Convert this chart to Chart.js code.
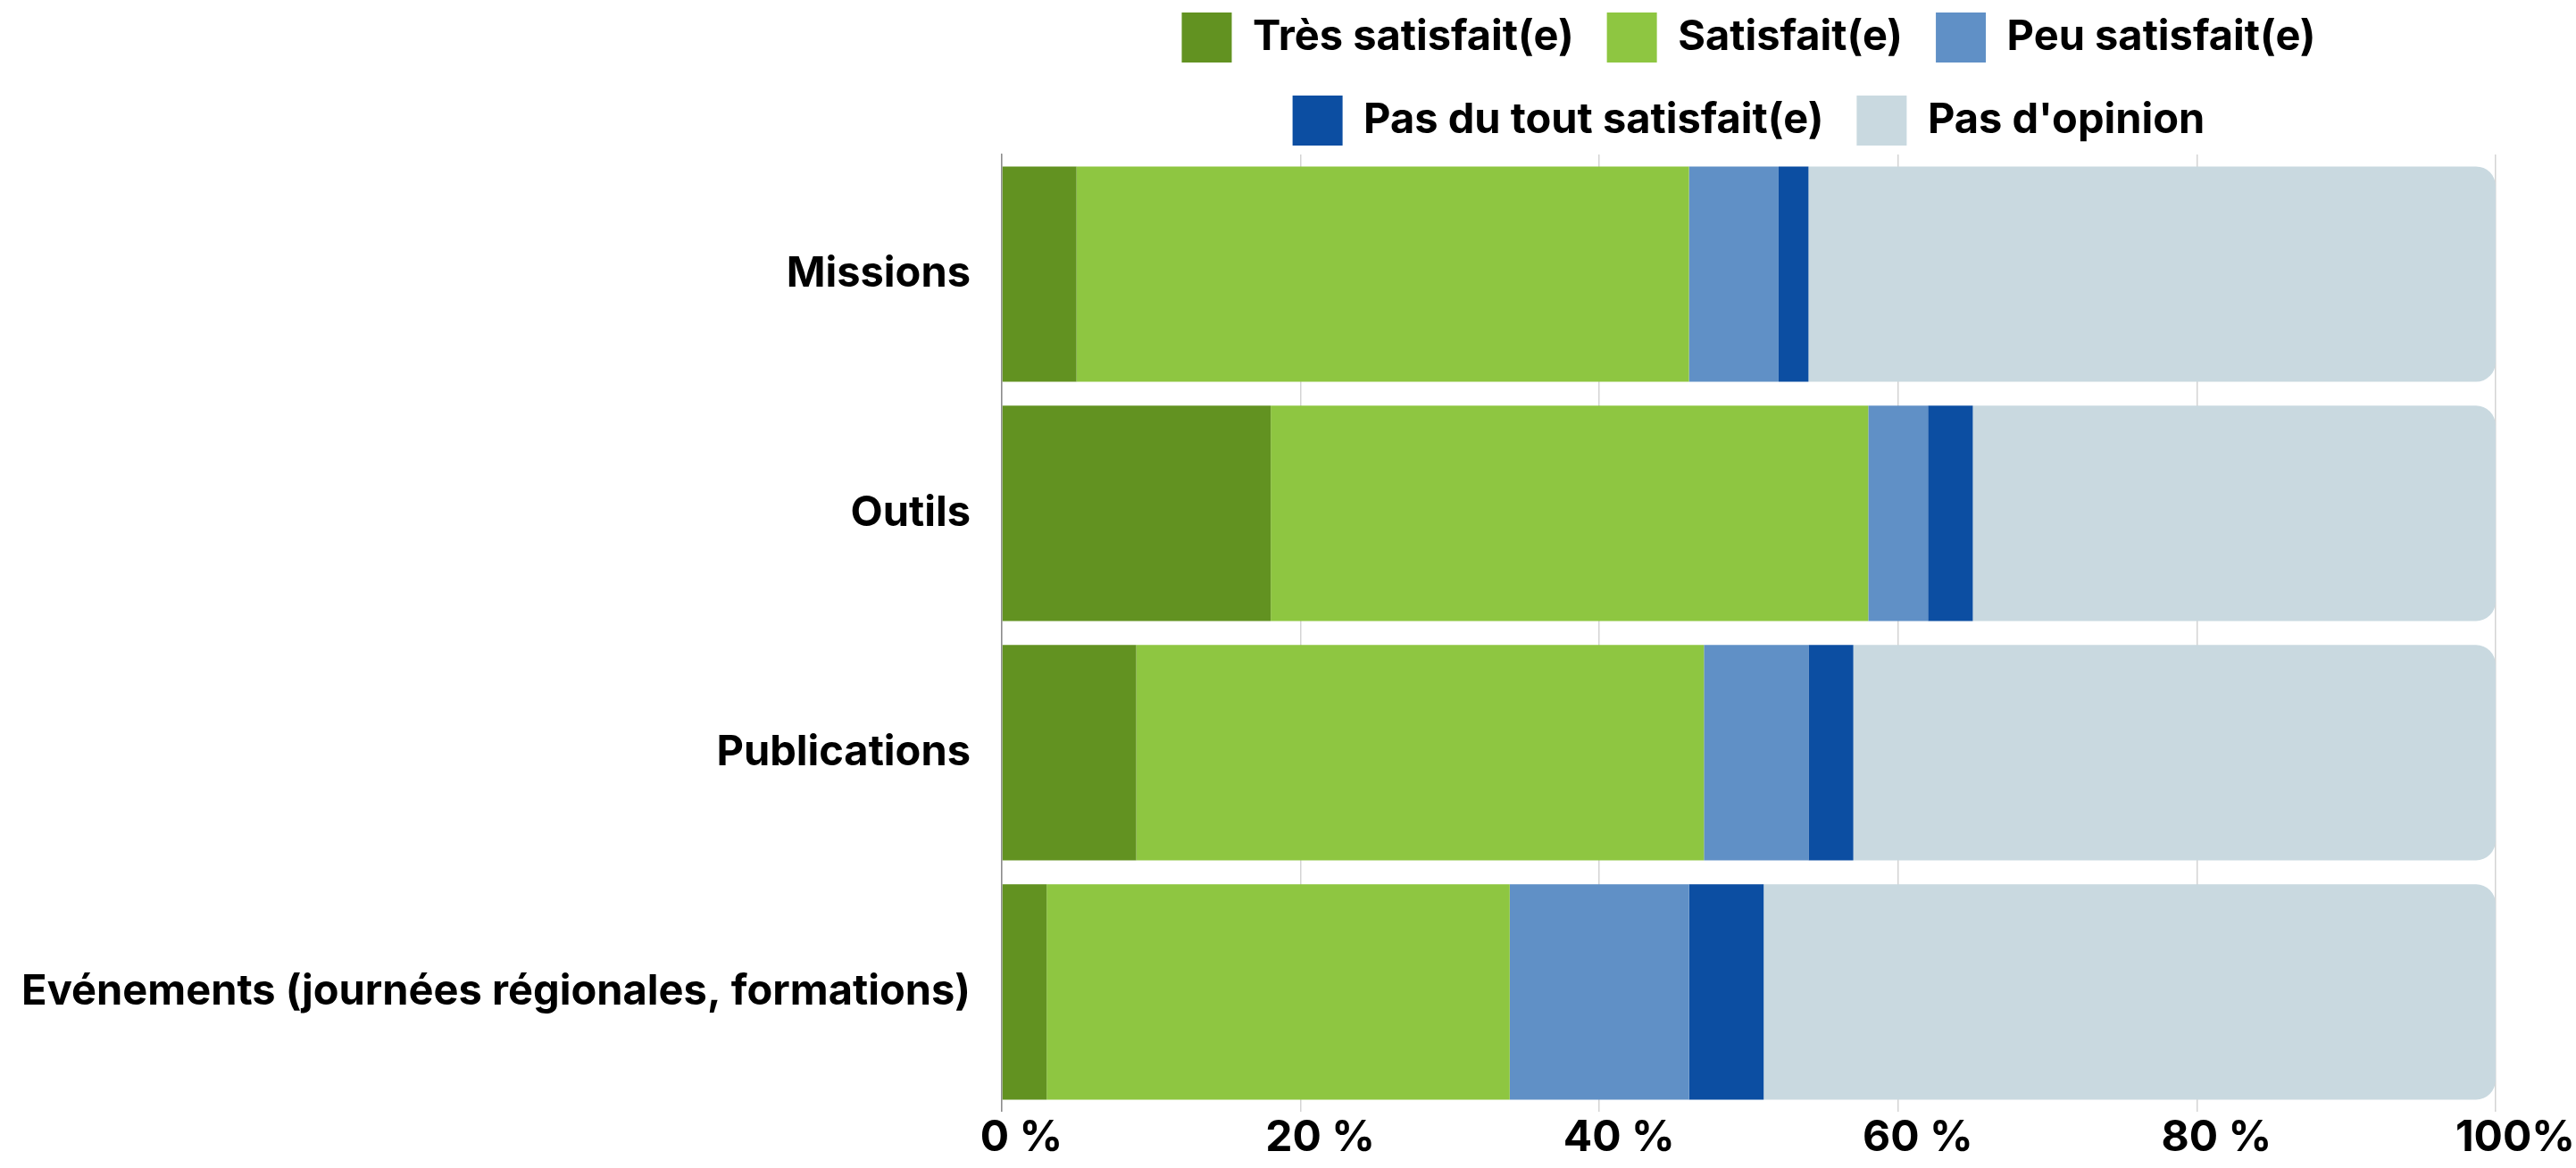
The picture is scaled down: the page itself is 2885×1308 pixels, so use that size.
<!DOCTYPE html>
<html lang="fr">
<head>
<meta charset="utf-8">
<title>Satisfaction</title>
<script src="https://cdn.jsdelivr.net/npm/chart.js@4.4.1/dist/chart.umd.min.js"></script>
<style>
    html, body { margin: 0; padding: 0; background: #fff; }
    #wrap { width: 2885px; height: 1308px; position: relative; }
</style>
</head>
<body>
<div id="wrap"><canvas id="satisfactionChart"></canvas></div>
<script>
// Données (%)
const categories = ['Missions', 'Outils', 'Publications', 'Evénements (journées régionales, formations)'];
const tresSatisfait = [5, 18, 9, 3];
const satisfait = [41, 40, 38, 31];
const peuSatisfait = [6, 4, 7, 12];
const pasDuToutSatisfait = [2, 3, 3, 5];
const pasOpinion = [46, 35, 43, 49];
const xTicks = [0, 20, 40, 60, 80, 100];
const xTickLabels = ['0 %', '20 %', '40 %', '60 %', '80 %', '100%'];

const colors = {
    tres: '#629221',
    satisfait: '#8ec641',
    peu: '#6090c6',
    pasDuTout: '#0c4ea2',
    opinion: '#c9d9e0'
};

document.addEventListener('DOMContentLoaded', function() {
    Chart.defaults.font.family = 'Inter, "Noto Sans", sans-serif';
    Chart.defaults.font.weight = 'bold';
    Chart.defaults.font.size = 47;
    Chart.defaults.color = '#000';

    const ctx = document.getElementById('satisfactionChart');
    new Chart(ctx, {
        type: 'bar',
        data: {
            labels: categories,
            datasets: [
                { label: 'Très satisfait(e)', data: tresSatisfait, backgroundColor: colors.tres },
                { label: 'Satisfait(e)', data: satisfait, backgroundColor: colors.satisfait },
                { label: 'Peu satisfait(e)', data: peuSatisfait, backgroundColor: colors.peu },
                { label: 'Pas du tout satisfait(e)', data: pasDuToutSatisfait, backgroundColor: colors.pasDuTout },
                { label: "Pas d'opinion", data: pasOpinion, backgroundColor: colors.opinion, borderRadius: 22 }
            ]
        },
        options: {
            indexAxis: 'y',
            responsive: true,
            maintainAspectRatio: false,
            animation: false,
            barPercentage: 0.9,
            categoryPercentage: 1,
            borderWidth: 0,
            layout: {
                padding: { top: -23, right: 90, bottom: 0, left: 0 }
            },
            plugins: {
                legend: {
                    position: 'top',
                    fullSize: false,
                    labels: {
                        boxWidth: 56,
                        boxHeight: 56,
                        padding: 37,
                        font: { size: 47, weight: 'bold' }
                    }
                },
                tooltip: { enabled: false }
            },
            scales: {
                x: {
                    stacked: true,
                    min: 0,
                    max: 100,
                    afterBuildTicks: function(scale) {
                        scale.ticks = xTicks.map(v => ({ value: v }));
                    },
                    grid: {
                        color: '#d4d4d4',
                        lineWidth: 1.5,
                        drawTicks: false
                    },
                    border: { display: false },
                    ticks: {
                        padding: 3,
                        labelOffset: 22,
                        font: { size: 48, weight: 'bold', lineHeight: 1.1 },
                        callback: function(value) {
                            const i = xTicks.indexOf(value);
                            return i >= 0 ? xTickLabels[i] : value + ' %';
                        }
                    }
                },
                y: {
                    stacked: true,
                    afterFit: function(scale) {
                        scale.width = 1122;
                    },
                    grid: { display: false, drawTicks: false },
                    border: { display: true, color: '#8c8c8c', width: 1.5 },
                    ticks: {
                        padding: 35,
                        font: { size: 47, weight: 'bold' }
                    }
                }
            }
        }
    });
});
</script>
</body>
</html>
